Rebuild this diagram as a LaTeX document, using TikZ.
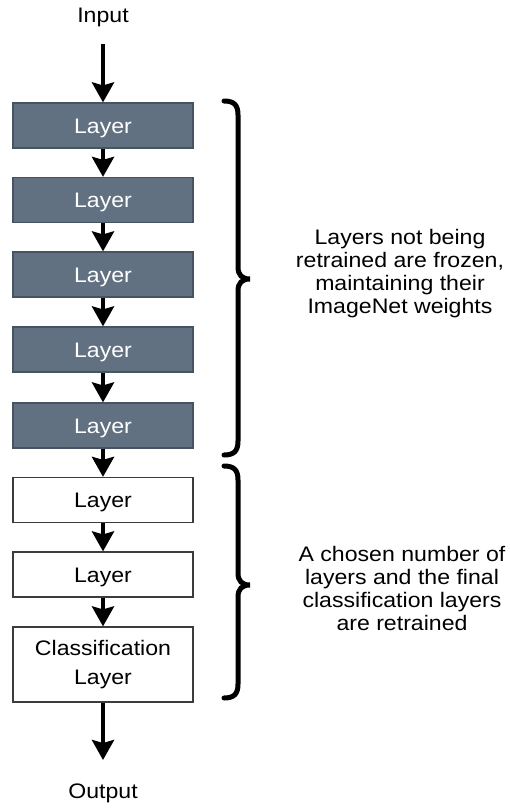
\documentclass[tikz,border=0pt]{standalone}
\usepackage{fontspec}
\setmainfont[FakeStretch=1.1]{Liberation Sans}
\usetikzlibrary{arrows.meta}
\definecolor{frozen}{RGB}{97,113,130}
\definecolor{frozenedge}{RGB}{70,84,98}
\definecolor{edgegray}{RGB}{60,60,60}
\begin{document}
\begin{tikzpicture}[x=1pt,y=-1pt,
  txt/.style={font=\fontsize{21}{23}\selectfont, align=center, inner sep=0pt},
  boxtxt/.style={txt, text height=15pt, text depth=0pt},
  frozenbox/.style={boxtxt, draw=frozenedge, line width=1.2pt, fill=frozen, text=white, minimum width=180pt, minimum height=45pt},
  trainbox/.style={boxtxt, draw=edgegray, line width=1.2pt, fill=white, text=black, minimum width=180pt, minimum height=45pt},
  flow/.style={line width=4pt, -{Stealth[inset=3pt,width=22pt,length=20pt]}},
  bracepath/.style={line width=5pt, line cap=round}]
\useasboundingbox (0,0) rectangle (510,809);
\node[txt] (in) at (103,17) {Input};
\coordinate (instart) at (103,44);
\node[frozenbox] (l1) at (103,125.5) {Layer};
\node[frozenbox] (l2) at (103,200) {Layer};
\node[frozenbox] (l3) at (103,274.5) {Layer};
\node[frozenbox] (l4) at (103,349.5) {Layer};
\node[frozenbox] (l5) at (103,425.5) {Layer};
\node[trainbox] (l6) at (103,500) {Layer};
\node[trainbox] (l7) at (103,574.5) {Layer};
\node[txt, draw=edgegray, line width=1.2pt, fill=white, minimum width=180pt, minimum height=75pt, font=\fontsize{21}{29}\selectfont] (l8) at (103,664.5) {Classification\\Layer};
\coordinate (outend) at (103,760);
\node[txt] (out) at (103,793) {Output};
\draw[flow] (instart) -- (l1);
\draw[flow] (l1) -- (l2);
\draw[flow] (l2) -- (l3);
\draw[flow] (l3) -- (l4);
\draw[flow] (l4) -- (l5);
\draw[flow] (l5) -- (l6);
\draw[flow] (l6) -- (l7);
\draw[flow] (l7) -- (l8);
\draw[flow] (l8) -- (outend);
% braces
\draw[bracepath] (224,101) .. controls (234,101) and (238,105) .. (238,115) -- (238,267) .. controls (238,275) and (242,279) .. (250,279) .. controls (242,279) and (238,283) .. (238,291) -- (238,441) .. controls (238,451) and (234,455) .. (224,455);
\draw[bracepath] (224,466) .. controls (234,466) and (238,470) .. (238,480) -- (238,573) .. controls (238,581) and (242,585) .. (250,585) .. controls (242,585) and (238,589) .. (238,597) -- (238,684) .. controls (238,694) and (234,698) .. (224,698);
\node[txt] (frozennote) at (400,273.5) {Layers not being\\retrained are frozen,\\maintaining their\\ImageNet weights};
\node[txt] (trainnote) at (402,588.5) {A chosen number of\\layers and the final\\classification layers\\are retrained};
\end{tikzpicture}
\end{document}
